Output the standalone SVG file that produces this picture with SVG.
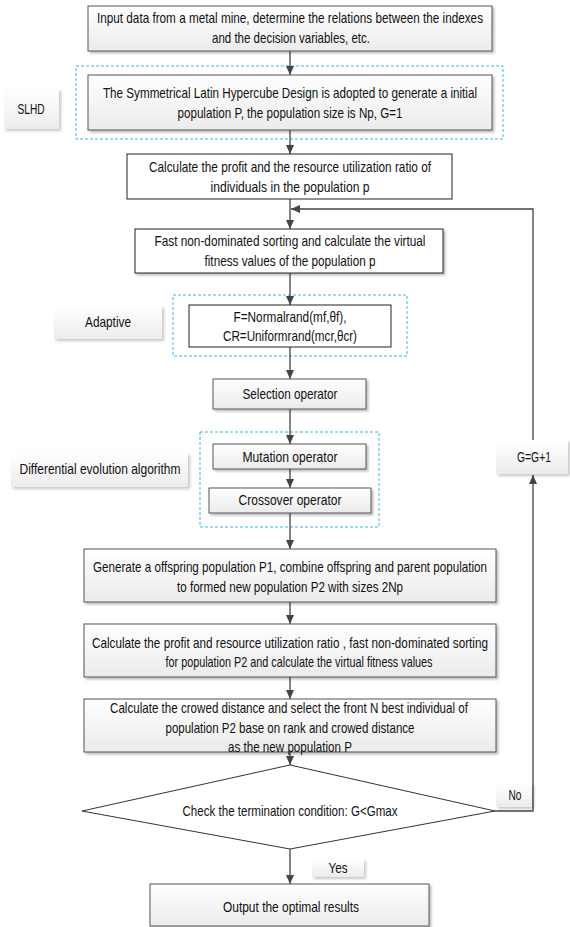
<svg xmlns="http://www.w3.org/2000/svg" width="570" height="927" viewBox="0 0 570 927">
<style>
text{font-family:"Liberation Sans",Arial,sans-serif;font-size:14.5px;fill:#111;text-anchor:middle;dominant-baseline:central}
.box{fill:url(#g1);stroke:#555;stroke-width:1;filter:url(#sh)}
.wbox{fill:#fff;stroke:#222;stroke-width:1}
.lbl{fill:url(#g2);filter:url(#sh2)}
.dash{fill:none;stroke:#38b6ec;stroke-width:1;stroke-dasharray:3 2}
.con{fill:none;stroke:#444;stroke-width:1.3}
</style>
<defs>
<linearGradient id="g1" x1="0" y1="0" x2="0" y2="1"><stop offset="0" stop-color="#fff"/><stop offset="1" stop-color="#ebebeb"/></linearGradient>
<linearGradient id="g2" x1="0" y1="0" x2="0" y2="1"><stop offset="0" stop-color="#fff"/><stop offset="1" stop-color="#ececec"/></linearGradient>
<filter id="sh" x="-5%" y="-10%" width="115%" height="130%"><feDropShadow dx="2" dy="2" stdDeviation="1.2" flood-color="#000" flood-opacity="0.25"/></filter>
<filter id="sh2" x="-10%" y="-20%" width="125%" height="150%"><feDropShadow dx="2" dy="2" stdDeviation="1.5" flood-color="#000" flood-opacity="0.22"/></filter>
<marker id="ah" markerWidth="10" markerHeight="8" refX="9" refY="4" orient="auto" markerUnits="userSpaceOnUse"><path d="M0,0 L9,4 L0,8 Z" fill="#444"/></marker>
</defs>

<g id="group-slhd"><rect class="dash" x="76" y="66" width="427" height="73"/></g>
<g id="group-adaptive"><rect class="dash" x="173" y="295" width="234" height="61"/></g>
<g id="group-de"><rect class="dash" x="200" y="432" width="179" height="95"/></g>

<g id="connectors">
<line class="con" x1="290" y1="51" x2="290" y2="75" marker-end="url(#ah)"/>
<line class="con" x1="290" y1="130" x2="290" y2="154" marker-end="url(#ah)"/>
<line class="con" x1="290" y1="199" x2="290" y2="229" marker-end="url(#ah)"/>
<line class="con" x1="290" y1="273" x2="290" y2="305" marker-end="url(#ah)"/>
<line class="con" x1="290" y1="347" x2="290" y2="379" marker-end="url(#ah)"/>
<line class="con" x1="290" y1="409" x2="290" y2="444" marker-end="url(#ah)"/>
<line class="con" x1="290" y1="469" x2="290" y2="488" marker-end="url(#ah)"/>
<line class="con" x1="290" y1="513" x2="290" y2="549" marker-end="url(#ah)"/>
<line class="con" x1="290" y1="602" x2="290" y2="624" marker-end="url(#ah)"/>
<line class="con" x1="290" y1="677" x2="290" y2="699" marker-end="url(#ah)"/>
<line class="con" x1="290" y1="752" x2="290" y2="765" marker-end="url(#ah)"/>
<line class="con" x1="290" y1="849" x2="290" y2="884" marker-end="url(#ah)"/>
<polyline class="con" points="495,811 533,811 533,475" marker-end="url(#ah)"/>
<polyline class="con" points="533,440 533,209 291,209" marker-end="url(#ah)"/>
</g>

<g id="n1"><rect class="box" x="88" y="6" width="404" height="45"/>
<text x="290" y="18" textLength="386" lengthAdjust="spacingAndGlyphs">Input data from a metal mine, determine the relations between the indexes</text>
<text x="291" y="38" textLength="158" lengthAdjust="spacingAndGlyphs">and the decision variables, etc.</text></g>

<g id="n2"><rect class="box" x="88" y="75" width="404" height="55"/>
<text x="290" y="93" textLength="374" lengthAdjust="spacingAndGlyphs">The  Symmetrical Latin Hypercube Design  is adopted to generate a initial</text>
<text x="290" y="113" textLength="225" lengthAdjust="spacingAndGlyphs">population P, the population size  is Np, G=1</text></g>

<g id="l-slhd"><rect class="lbl" x="4" y="89" width="55" height="40"/><text x="31" y="109" textLength="27" lengthAdjust="spacingAndGlyphs">SLHD</text></g>

<g id="n3"><rect class="wbox" x="127" y="154" width="325" height="45"/>
<text x="290" y="167" textLength="282" lengthAdjust="spacingAndGlyphs">Calculate the profit and the resource utilization ratio of</text>
<text x="290" y="187" textLength="159" lengthAdjust="spacingAndGlyphs">individuals in the  population p</text></g>

<g id="n4"><rect class="wbox" x="135" y="229" width="308" height="44" style="filter:url(#sh)"/>
<text x="290" y="241" textLength="271" lengthAdjust="spacingAndGlyphs">Fast non-dominated sorting  and calculate the virtual</text>
<text x="290" y="261" textLength="171" lengthAdjust="spacingAndGlyphs">fitness values of the population p</text></g>

<g id="n5"><rect class="wbox" x="189" y="305" width="202" height="42"/>
<text x="290" y="317" textLength="113" lengthAdjust="spacingAndGlyphs">F=Normalrand(mf,θf),</text>
<text x="290" y="336" textLength="134" lengthAdjust="spacingAndGlyphs">CR=Uniformrand(mcr,θcr)</text></g>

<g id="l-adaptive"><rect class="lbl" x="54" y="306" width="108" height="33"/><text x="108" y="322" textLength="46" lengthAdjust="spacingAndGlyphs">Adaptive</text></g>

<g id="n6"><rect class="box" x="213" y="379" width="153" height="30"/>
<text x="290" y="394" textLength="95" lengthAdjust="spacingAndGlyphs">Selection operator</text></g>

<g id="n7"><rect class="box" x="213" y="444" width="153" height="25"/>
<text x="290" y="457" textLength="95" lengthAdjust="spacingAndGlyphs">Mutation operator</text></g>

<g id="n8"><rect class="box" x="209" y="488" width="162" height="25"/>
<text x="290" y="500" textLength="103" lengthAdjust="spacingAndGlyphs">Crossover operator</text></g>

<g id="l-de"><rect class="lbl" x="11" y="453" width="177" height="34"/><text x="100" y="469" textLength="161" lengthAdjust="spacingAndGlyphs">Differential evolution algorithm</text></g>

<g id="n9"><rect class="box" x="84" y="549" width="412" height="53"/>
<text x="290" y="567" textLength="394" lengthAdjust="spacingAndGlyphs">Generate a offspring population P1, combine offspring and parent population</text>
<text x="290" y="587" textLength="226" lengthAdjust="spacingAndGlyphs">to formed new population P2 with sizes 2Np</text></g>

<g id="n10"><rect class="box" x="84" y="624" width="412" height="53"/>
<text x="290" y="643" textLength="396" lengthAdjust="spacingAndGlyphs">Calculate the profit and resource utilization ratio , fast non-dominated sorting</text>
<text x="299" y="662" textLength="267" lengthAdjust="spacingAndGlyphs">for population P2 and calculate the virtual fitness values</text></g>

<g id="n11"><rect class="box" x="84" y="699" width="412" height="53"/>
<text x="289" y="708" textLength="358" lengthAdjust="spacingAndGlyphs">Calculate the crowed distance and select the front N best individual of</text>
<text x="290" y="728" textLength="249" lengthAdjust="spacingAndGlyphs">population P2 base on rank and crowed distance</text>
<text x="290" y="747" textLength="124" lengthAdjust="spacingAndGlyphs">as the new population P</text></g>

<g id="n12"><polygon points="290,765 495,811 290,849 82,811" fill="#fff" stroke="#333" stroke-width="1"/>
<text x="290" y="811" textLength="215" lengthAdjust="spacingAndGlyphs">Check the termination condition: G&lt;Gmax</text></g>

<g id="n13"><rect class="box" x="150" y="884" width="279" height="42"/>
<text x="291" y="907" textLength="136" lengthAdjust="spacingAndGlyphs">Output the optimal results</text></g>

<g id="l-gg"><rect class="lbl" x="496" y="440" width="72" height="34"/><text x="534" y="457" textLength="34" lengthAdjust="spacingAndGlyphs">G=G+1</text></g>
<g id="l-no"><rect class="lbl" x="496" y="783" width="36" height="24"/><text x="515" y="795" textLength="13" lengthAdjust="spacingAndGlyphs">No</text></g>
<g id="l-yes"><rect class="lbl" x="312" y="859" width="52" height="18"/><text x="338" y="868" textLength="19" lengthAdjust="spacingAndGlyphs">Yes</text></g>
</svg>
